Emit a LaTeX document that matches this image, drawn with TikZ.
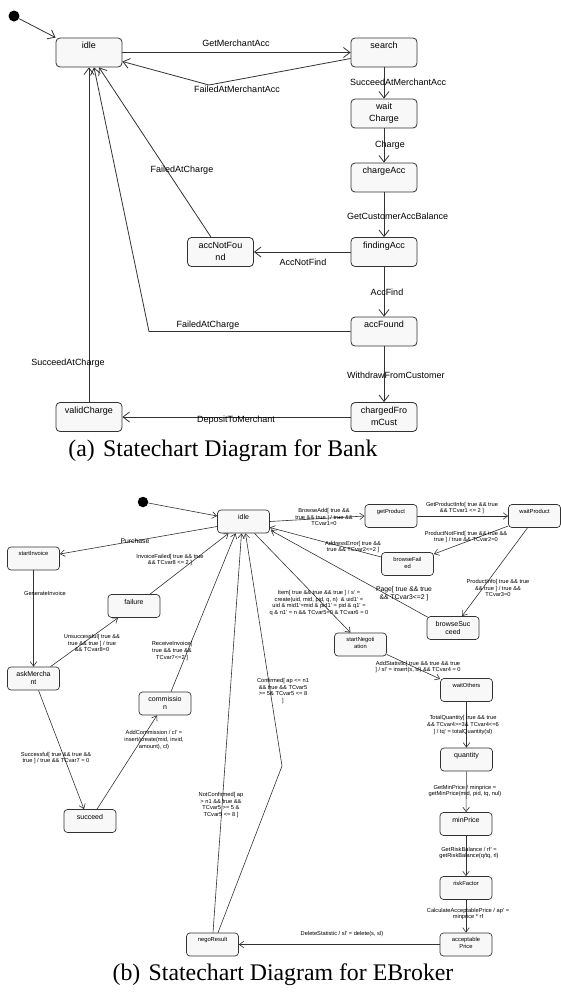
\documentclass[tikz,border=0pt]{standalone}
\usepackage{fontspec}
\setmainfont{Liberation Serif}
\setsansfont{Liberation Sans}
\usetikzlibrary{arrows.meta,calc}
\definecolor{linegray}{RGB}{50,50,50}
\definecolor{boxgray}{RGB}{248,248,248}

\begin{document}
\begin{tikzpicture}[x=1pt,y=1pt,yscale=-1,xscale=1,
  astate/.style={draw=linegray,fill=boxgray,rounded corners=4pt,line width=0.8pt,minimum width=66pt,minimum height=29pt,text width=62pt,align=center,inner sep=2pt,text height=8.5pt,text depth=16.5pt,font=\sffamily\fontsize{9}{12}\selectfont},
  bstate/.style={draw=linegray,fill=boxgray,rounded corners=3.5pt,line width=0.7pt,minimum width=52pt,minimum height=23pt,text width=49pt,align=center,inner sep=1.5pt,text height=7pt,text depth=13pt,font=\sffamily\fontsize{5.8}{7}\selectfont},
  bbig/.style={bstate,text height=8pt,text depth=12pt,font=\sffamily\fontsize{7}{8}\selectfont},
  initial/.style={circle,fill=black,inner sep=0pt,minimum size=11pt},
  trans/.style={draw=linegray,line width=0.8pt,-{Straight Barb[length=6.5pt,width=10pt]}},
  btrans/.style={draw=linegray,line width=0.6pt,-{Straight Barb[length=4.5pt,width=6.5pt]}},
  alabel/.style={inner sep=0pt,align=center,font=\sffamily\fontsize{9}{11}\selectfont},
  blabel/.style={inner sep=0pt,align=center,font=\sffamily\fontsize{5.7}{6.6}\selectfont},
  bbiglabel/.style={inner sep=0pt,align=center,font=\sffamily\fontsize{6.8}{7.6}\selectfont},
  caption/.style={inner sep=0pt,font=\fontsize{23.8}{28}\selectfont}]
\useasboundingbox (0,0) rectangle (561,994);

%%%%%%%%%%%%%%%% (a) Bank
% States
\node[initial] (a-init) at (14,16) {};
\node[astate] (a-idle) at (89,52.5) {idle};
\node[astate] (a-search) at (384,52.5) {search};
\node[astate] (a-wait) at (384,113.5) {wait\\Charge};
\node[astate] (a-charge) at (384,177.5) {chargeAcc};
\node[astate] (a-finding) at (384,252) {findingAcc};
\node[astate] (a-notfound) at (220.5,252) {accNotFou\\nd};
\node[astate] (a-found) at (384,331.5) {accFound};
\node[astate] (a-charged) at (384,417) {chargedFro\\mCust};
\node[astate] (a-valid) at (89,417) {validCharge};
\coordinate (a-fb) at (209,85);
\coordinate (a-fc) at (149,331.5);

% Connection
\draw[trans] (a-init) -- (a-idle.north west);
\draw[trans] (a-idle) -- (a-search);
\draw[trans] ($(a-search.west)+(0,6)$) -- (a-fb) -- ($(a-idle.east)+(0,9)$);
\draw[trans] (a-search) -- (a-wait);
\draw[trans] (a-wait) -- (a-charge);
\draw[trans] (a-charge) -- (a-finding);
\draw[trans] (a-finding) -- (a-notfound);
\draw[trans] ($(a-notfound.north)+(-9.5,0)$) -- ($(a-idle.south)+(10,0)$);
\draw[trans] (a-finding) -- (a-found);
\draw[trans] (a-found.west) -- (a-fc) -- ($(a-idle.south)+(5,0)$);
\draw[trans] (a-found) -- (a-charged);
\draw[trans] (a-charged) -- (a-valid);
\draw[trans] (a-valid) -- (a-idle);

% Text Node
\node[alabel] (a-l1) at (236,43) {GetMerchantAcc};
\node[alabel] (a-l2) at (237,89) {FailedAtMerchantAcc};
\node[alabel,anchor=west] (a-l3) at (350,82) {SucceedAtMerchantAcc};
\node[alabel] (a-l4) at (390,145) {Charge};
\node[alabel] (a-l5) at (182,170) {FailedAtCharge};
\node[alabel,anchor=west] (a-l6) at (347,216) {GetCustomerAccBalance};
\node[alabel] (a-l7) at (303,262) {AccNotFind};
\node[alabel] (a-l8) at (387,292) {AccFind};
\node[alabel] (a-l9) at (208,325) {FailedAtCharge};
\node[alabel] (a-l10) at (68,363) {SucceedAtCharge};
\node[alabel,anchor=west] (a-l11) at (347,375) {WithdrawFromCustomer};
\node[alabel] (a-l12) at (236,420) {DepositToMerchant};
\node[caption] (a-cap) at (223,451) {(a)\hspace{0.35em}Statechart Diagram for Bank};

%%%%%%%%%%%%%%%% (b) EBroker
% States
\node[initial,minimum size=10.5pt] (b-init) at (143,502) {};
\node[bbig] (b-idle) at (243.5,521.5) {idle};
\node[bstate] (b-startinv) at (33.5,558.5) {startInvoice};
\node[bbig] (b-failure) at (134,606) {failure};
\node[bbig] (b-askm) at (33.5,678.5) {askMercha\\nt};
\node[bbig] (b-commission) at (165,703.5) {commissio\\n};
\node[bbig] (b-succeed) at (90,821) {succeed};
\node[bstate] (b-getprod) at (391,516) {getProduct};
\node[bstate] (b-waitprod) at (534.5,516) {waitProduct};
\node[bstate] (b-browsefail) at (407.5,564) {browseFail\\ed};
\node[bbig] (b-browsesucc) at (453,628) {browseSuc\\ceed};
\node[bstate] (b-startneg) at (360.5,644.5) {startNegoti\\ation};
\node[bstate] (b-waitothers) at (466.5,690) {waitOthers};
\node[bbig] (b-quantity) at (466.5,759.5) {quantity};
\node[bbig] (b-minprice) at (466,824) {minPrice};
\node[bstate] (b-risk) at (466,888) {riskFactor};
\node[bstate] (b-accept) at (466,944.5) {acceptable\\Price};
\node[bstate] (b-nego) at (212.5,944.5) {negoResult};
\coordinate (b-cb) at (282,766);

% Connection
\draw[btrans] (b-init) -- ($(b-idle.west)+(0,-5.5)$);
\draw[btrans] ($(b-idle.west)+(0,5)$) -- ($(b-startinv.east)+(0,-4.5)$);
\draw[btrans] (b-startinv) -- (b-askm);
\draw[btrans] ($(b-askm.north)+(17,0)$) -- ($(b-failure.south)+(-16,0)$);
\draw[btrans] ($(b-failure.north)+(16,0)$) -- ($(b-idle.south)+(-15,0)$);
\draw[btrans] ($(b-askm.south)+(5,0)$) -- ($(b-succeed.north)+(-6,0)$);
\draw[btrans] ($(b-succeed.north)+(7,0)$) -- ($(b-commission.south)+(-8,0)$);
\draw[btrans] ($(b-commission.north)+(6,0)$) -- ($(b-idle.south)+(-8,0)$);
\draw[btrans] (b-idle.east) -- (b-getprod.west);
\draw[btrans] (b-getprod) -- (b-waitprod);
\draw[btrans] ($(b-waitprod.west)+(0,10)$) -- ($(b-browsefail.east)+(0,-10)$);
\draw[btrans] ($(b-browsefail.west)+(0,-7)$) -- ($(b-idle.east)+(0,6)$);
\draw[btrans] ($(b-waitprod.south)+(-7,0)$) -- ($(b-browsesucc.north)+(9,0)$);
\draw[btrans] ($(b-browsesucc.north west)+(1,1)$) -- ($(b-idle.south east)+(1,-3)$);
\draw[btrans] ($(b-idle.south)+(11,0)$) -- ($(b-startneg.north)+(-10,0)$);
\draw[btrans] ($(b-startneg.east)+(0,10)$) -- ($(b-waitothers.west)+(0,-11)$);
\draw[btrans] (b-waitothers) -- (b-quantity);
\draw[btrans] (b-quantity) -- (b-minprice);
\draw[btrans] (b-minprice) -- (b-risk);
\draw[btrans] (b-risk) -- (b-accept);
\draw[btrans] (b-accept) -- (b-nego);
\draw[btrans] ($(b-nego.north)+(0.5,0)$) -- ($(b-idle.south)+(-2,0)$);
\draw[btrans] ($(b-nego.north)+(5.5,0)$) -- (b-cb) -- ($(b-idle.south)+(2,0)$);

% Text Node
\node[bbiglabel] (b-l1) at (135,541) {Purchase};
\node[blabel] (b-l2) at (45,593) {GenerateInvoice};
\node[blabel] (b-l3) at (92,643) {Unsuccessful[ true \&\&\\true \&\& true ] / true\\\&\& TCvar8=0};
\node[blabel] (b-l4) at (170,560) {InvoiceFailed[ true \&\& true\\\&\& TCvar8 <= 2 ]};
\node[blabel] (b-l5) at (56,758) {Successful[ true \&\& true \&\&\\true ] / true \&\& TCvar7 = 0};
\node[blabel] (b-l6) at (154,740) {AddCommission / cl' =\\insert(create(mid, invid,\\amount), cl)};
\node[blabel] (b-l7) at (172,651) {ReceiveInvoice[\\true \&\& true \&\&\\TCvar7<=2 ]};
\node[blabel] (b-l8) at (324,517) {BrowseAdd[ true \&\&\\true \&\& true ] / true \&\&\\TCvar1=0};
\node[blabel] (b-l9) at (462,508) {GetProductInfo[ true \&\& true\\\&\& TCvar1 <= 2 ]};
\node[blabel] (b-l10) at (466,537) {ProductNotFind[ true \&\& true \&\&\\true ] / true \&\& TCvar2=0};
\node[blabel] (b-l11) at (353,547) {AddressError[ true \&\&\\true \&\& TCvar2<=2 ]};
\node[blabel] (b-l12) at (498,588) {ProductInfo[ true \&\& true\\\&\& true ] / true \&\&\\TCvar3=0};
\node[bbiglabel] (b-l13) at (404,594) {Page[ true \&\& true\\\&\& TCvar3<=2 ]};
\node[blabel] (b-l14) at (319,603) {Item[ true \&\& true \&\& true ] / s' =\\create(uid, mid, pid, q, n)\ \ \& uid1' =\\uid \& mid1'=mid \& pid1' = pid \& q1' =\\q \& n1' = n \&\& TCvar5=0 \& TCvar6 = 0};
\node[blabel] (b-l15) at (418,667) {AddStatistic[ true \&\& true \&\& true\\] / sl' = insert(s, sl) \&\& TCvar4 = 0};
\node[blabel] (b-l16) at (463,725) {TotalQuantity[ true \&\& true\\\&\& TCvar4>=3\& TCvar4<=6\\] / tq' = totalQuantity(sl)};
\node[blabel] (b-l17) at (465,791) {GetMinPrice / minprice =\\getMinPrice(mid, pid, tq, nul)};
\node[blabel] (b-l18) at (469,853) {GetRiskBalance / rf' =\\getRiskBalance(q/tq, rl)};
\node[blabel] (b-l19) at (468,914) {CalculateAcceptablePrice / ap' =\\minprice * rf};
\node[blabel] (b-l20) at (342,934) {DeleteStatistic / sl' = delete(s, sl)};
\node[blabel] (b-l21) at (221,805) {NotConfirmed[ ap\\> n1 \&\& true \&\&\\TCvar5 >= 5 \&\\TCvar5 <= 8 ]};
\node[blabel] (b-l22) at (283,691) {Confirmed[ ap <= n1\\\&\& true \&\& TCvar5\\>= 5\& TCvar5 <= 8\\]};
\node[caption] (b-cap) at (283,975) {(b)\hspace{0.35em}Statechart Diagram for EBroker};

\end{tikzpicture}
\end{document}
